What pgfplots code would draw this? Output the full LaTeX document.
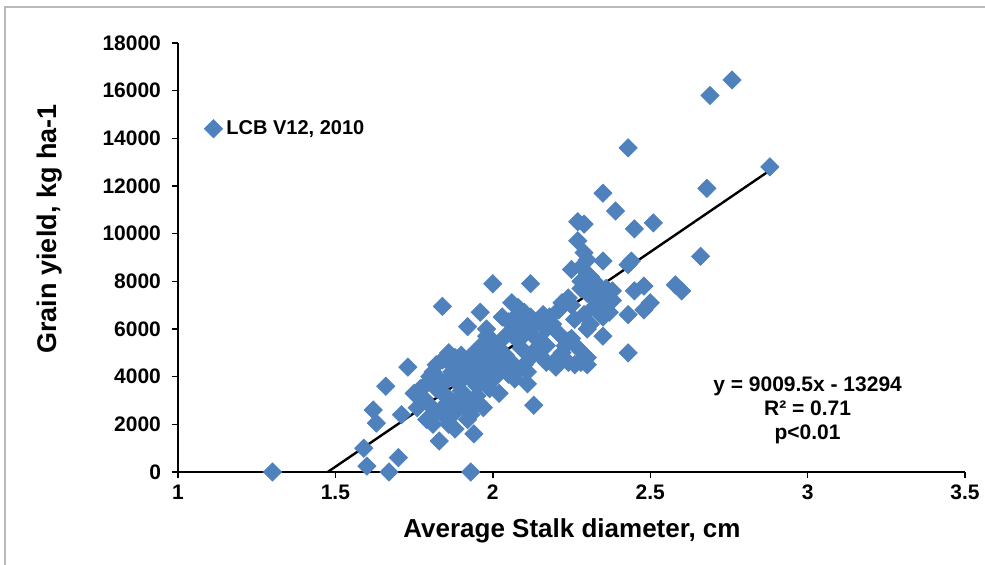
\documentclass[border=0pt]{standalone}
\usepackage{fontspec}
\setmainfont{Liberation Sans}
\usepackage{pgfplots}
\usepackage{pgfplotstable}
\pgfplotsset{compat=1.18}
\definecolor{ptblue}{RGB}{79,129,189}
\pgfplotstableread{
x y
1.30 0
1.59 1000
1.60 250
1.62 2600
1.63 2050
1.66 3600
1.67 0
1.70 600
1.71 2400
1.73 4400
1.75 3300
1.76 2700
1.84 6950
1.83 1300
1.86 2000
1.92 6100
1.94 1600
1.93 0
1.92 2200
1.96 6700
2.00 7900
2.02 3300
2.12 7900
2.13 2800
2.11 3700
2.17 4600
2.20 4400
2.22 4800
2.24 5500
2.26 4500
2.28 4700
2.30 4800
2.35 5700
2.43 5000
2.43 6600
2.45 7600
2.48 6800
2.50 7100
2.48 7800
2.58 7850
2.60 7600
2.66 9050
2.68 11900
2.69 15800
2.76 16450
2.88 12800
2.43 13600
2.35 11700
2.39 10950
2.51 10450
2.45 10200
2.27 10500
2.29 10400
2.27 9700
2.29 9200
2.30 8900
2.35 8850
2.44 8850
2.43 8700
2.25 8500
2.28 8600
2.31 8200
2.28 7700
2.30 7500
2.32 7300
2.36 7700
2.34 7100
2.36 7000
2.38 7200
2.33 6800
2.35 6500
2.31 6200
2.30 6000
2.24 7300
2.25 7000
2.22 7100
2.21 6800
2.18 6500
2.16 6600
2.14 6300
2.12 6500
2.10 6700
2.08 6900
2.06 7100
2.07 6500
2.05 6300
2.09 6100
2.11 5900
2.13 5700
2.15 5500
2.14 5200
2.12 4800
2.10 4500
2.08 4300
2.06 4600
2.04 4900
2.02 5200
2.00 5500
1.98 5700
1.97 5400
1.99 5000
2.01 4600
2.03 4300
2.00 4100
1.98 4400
1.96 4800
1.94 5000
1.92 4700
1.90 4900
1.88 4800
1.86 4600
1.84 4700
1.82 4500
1.81 4200
1.80 4000
1.79 3700
1.82 3500
1.84 3300
1.86 3100
1.85 3800
1.87 4200
1.89 4400
1.91 4100
1.93 3900
1.95 3600
1.97 3800
1.99 3500
1.95 3200
1.93 3000
1.91 2800
1.89 3100
1.87 2900
1.84 2700
1.82 2500
1.80 2800
1.78 3100
1.77 3500
1.83 3900
1.89 3700
1.94 4300
1.96 4000
1.90 3400
1.85 2300
1.88 2500
1.86 5000
1.88 4200
1.92 4500
1.95 2900
1.97 2700
2.05 4100
2.07 3900
2.11 4200
2.09 5200
2.04 5700
2.06 5800
2.08 5500
2.10 6300
2.03 6500
2.17 6000
2.19 6200
2.21 5800
2.23 5300
2.25 5600
2.27 5200
2.26 6400
2.29 6600
2.32 6900
2.34 7500
2.28 8000
2.38 7600
2.37 6700
2.33 7900
2.24 4600
2.28 4600
2.30 4500
2.22 5000
2.20 4700
2.15 4900
2.17 5300
1.98 6000
2.01 4000
1.79 2200
1.81 2000
1.88 1800
1.93 2400
}\yielddata
\begin{document}
\begin{tikzpicture}
\useasboundingbox (0,0) rectangle (492.5pt,282.5pt);
\draw[gray!55, line width=0.8pt] (2.5pt,-5pt) -- (2.5pt,279pt) -- (500pt,279pt);
\begin{axis}[
  at={(89pt,46.5pt)}, anchor=south west,
  scale only axis, width=393.5pt, height=214.5pt,
  xmin=1, xmax=3.5, ymin=0, ymax=18000,
  axis lines*=left,
  axis line style={line width=0.7pt, black},
  xtick={1,1.5,2,2.5,3,3.5},
  ytick={0,2000,...,18000},
  tick align=outside,
  major tick length=3pt,
  tick style={black, line width=0.7pt},
  scaled y ticks=false,
  /pgf/number format/.cd, 1000 sep={}, assume math mode=true, /pgfplots/.cd,
  ticklabel style={font=\bfseries\fontsize{10.5}{12}\selectfont},
  yticklabel style={xshift=-2pt},
  clip=false,
  legend style={at={(0.033,0.80)}, anchor=west, draw=none, fill=none,
    font=\bfseries\fontsize{10}{12}\selectfont, inner sep=0pt},
  legend image code/.code={\draw[#1] plot coordinates {(0.15cm,0cm)};},
]
\addplot[only marks, mark=square*, mark size=3.2pt,
  mark options={rotate=45, fill=ptblue, draw=ptblue}] table {\yielddata};
\addlegendentry{LCB V12, 2010}
\addplot[black, line width=1.2pt, forget plot] coordinates {(1.4756,0) (2.88,12653)};
\node[align=center, font=\bfseries\fontsize{10.5}{12}\selectfont] at (axis cs:3.0,2580)
  {y = 9009.5x - 13294\\R² = 0.71\\p<0.01};
\end{axis}
\node[font=\bfseries\fontsize{13}{15}\selectfont] at (286pt,17pt) {Average Stalk diameter, cm};
\node[rotate=90, font=\bfseries\fontsize{13.5}{15}\selectfont] at (25pt,168pt) {Grain yield, kg ha-1};
\end{tikzpicture}
\end{document}
